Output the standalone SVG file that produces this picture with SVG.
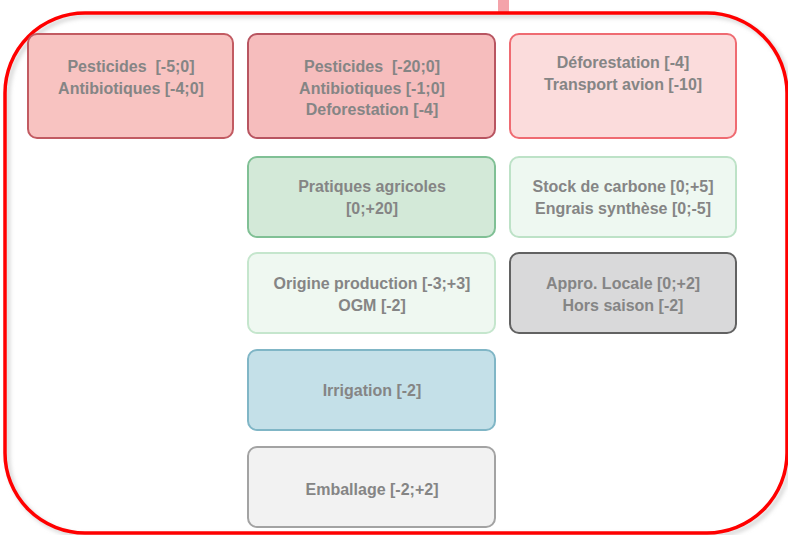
<svg xmlns="http://www.w3.org/2000/svg" width="788" height="535" viewBox="0 0 788 535">
<defs>
<style>
.t{font-family:"Liberation Sans",Arial,sans-serif;font-weight:bold;font-size:16px;fill:#858585;text-anchor:middle}
.b{stroke-width:2}
</style>
<filter id="sh" x="-5%" y="-5%" width="110%" height="110%"><feGaussianBlur stdDeviation="2"/></filter>
</defs>
<rect width="788" height="535" fill="#ffffff"/>
<rect x="498" y="0" width="11" height="12" fill="#f4a3aa"/>
<g id="frame">
<rect x="8" y="16" width="782" height="520" rx="80" fill="none" stroke="#c8c8c8" stroke-width="3" filter="url(#sh)"/>
<rect x="5" y="13" width="782" height="520" rx="80" fill="none" stroke="#ff0000" stroke-width="3.5"/>
</g>
<g id="n1"><rect class="b" x="28" y="34" width="205" height="104" rx="9" fill="#f8c3c1" stroke="#c25b62"/>
<text class="t" x="131" y="72">Pesticides&#160; [-5;0]</text><text class="t" x="131" y="94">Antibiotiques [-4;0]</text></g>
<g id="n2"><rect class="b" x="248" y="34" width="247" height="104" rx="9" fill="#f6bdbd" stroke="#b85561"/>
<text class="t" x="372" y="72">Pesticides&#160; [-20;0]</text><text class="t" x="372" y="94">Antibiotiques [-1;0]</text><text class="t" x="372" y="115">Deforestation [-4]</text></g>
<g id="n3"><rect class="b" x="510" y="34" width="226" height="104" rx="9" fill="#fbdcdc" stroke="#ef6b72"/>
<text class="t" x="623" y="68">Déforestation [-4]</text><text class="t" x="623" y="90">Transport avion [-10]</text></g>
<g id="n4"><rect class="b" x="248" y="157" width="247" height="80" rx="9" fill="#d3e9d8" stroke="#80c095"/>
<text class="t" x="372" y="192">Pratiques agricoles</text><text class="t" x="372" y="214">[0;+20]</text></g>
<g id="n5"><rect class="b" x="510" y="157" width="226" height="80" rx="9" fill="#eef8f1" stroke="#bde2c7"/>
<text class="t" x="623" y="192">Stock de carbone [0;+5]</text><text class="t" x="623" y="214">Engrais synthèse [0;-5]</text></g>
<g id="n6"><rect class="b" x="248" y="253" width="247" height="80" rx="9" fill="#eff8f1" stroke="#c5e6cd"/>
<text class="t" x="372" y="289">Origine production [-3;+3]</text><text class="t" x="372" y="311">OGM [-2]</text></g>
<g id="n7"><rect class="b" x="510" y="253" width="226" height="80" rx="9" fill="#d9d9da" stroke="#626262"/>
<text class="t" x="623" y="289">Appro. Locale [0;+2]</text><text class="t" x="623" y="311">Hors saison [-2]</text></g>
<g id="n8"><rect class="b" x="248" y="350" width="247" height="80" rx="9" fill="#c4e0e8" stroke="#80b6c6"/>
<text class="t" x="372" y="396">Irrigation [-2]</text></g>
<g id="n9"><rect class="b" x="248" y="447" width="247" height="80" rx="9" fill="#f2f2f2" stroke="#a3a3a3"/>
<text class="t" x="372" y="495">Emballage [-2;+2]</text></g>
<g id="connectors"></g>
</svg>
